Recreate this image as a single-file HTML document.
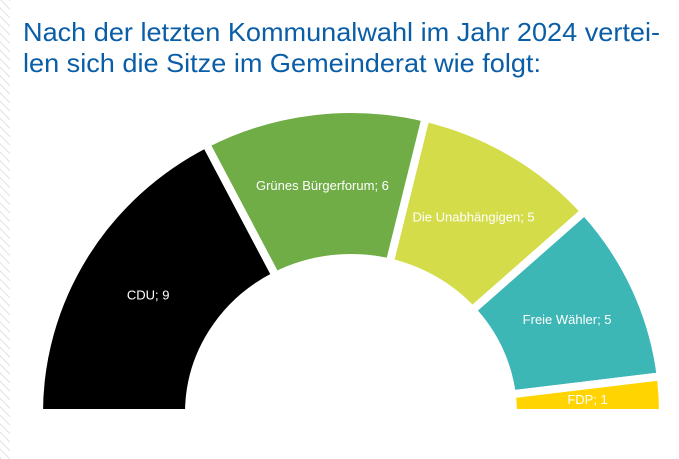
<!DOCTYPE html>
<html><head><meta charset="utf-8"><style>
html,body{margin:0;padding:0;background:#fff;width:679px;height:459px;overflow:hidden}
svg{display:block}
</style></head><body>
<svg width="679" height="459" viewBox="0 0 679 459">
<defs><pattern id="hatch" width="6" height="6" patternUnits="userSpaceOnUse" patternTransform="rotate(-45)"><line x1="0" y1="0" x2="0" y2="6" stroke="#d8d8d8" stroke-width="1.5"/></pattern></defs>
<rect x="0" y="0" width="10" height="459" fill="url(#hatch)"/>
<text x="23" y="41" font-family="Liberation Sans, sans-serif" font-size="26" fill="#0a5ea8" textLength="637" lengthAdjust="spacingAndGlyphs">Nach der letzten Kommunalwahl im Jahr 2024 vertei-</text>
<text x="23" y="72" font-family="Liberation Sans, sans-serif" font-size="26" fill="#0a5ea8" textLength="518" lengthAdjust="spacingAndGlyphs">len sich die Sitze im Gemeinderat wie folgt:</text>
<g id="chart"></g>
</svg>
<script>
const parties = ["CDU", "Grünes Bürgerforum", "Die Unabhängigen", "Freie Wähler", "FDP"];
const seats = [9, 6, 5, 5, 1];
const colors = ["#000000", "#70ad47", "#d4dc4a", "#3db6b6", "#ffd400"];
const cx = 351, cy = 413, rxO = 312, ryO = 304, rxI = 162, ryI = 155;
const total = seats.reduce((a, b) => a + b, 0);
const g = document.getElementById('chart');
const ns = 'http://www.w3.org/2000/svg';
function pt(a, rx, ry) { return [cx - rx * Math.cos(a), cy - ry * Math.sin(a)]; }
let cum = 0;
seats.forEach((v, i) => {
  const a0 = cum / total * Math.PI, a1 = (cum + v) / total * Math.PI;
  cum += v;
  const p0 = pt(a0, rxO, ryO), p1 = pt(a1, rxO, ryO), p2 = pt(a1, rxI, ryI), p3 = pt(a0, rxI, ryI);
  const path = document.createElementNS(ns, 'path');
  path.setAttribute('d', `M${p0} A${rxO} ${ryO} 0 0 1 ${p1} L${p2} A${rxI} ${ryI} 0 0 0 ${p3} Z`);
  path.setAttribute('fill', colors[i]);
  path.setAttribute('stroke', '#fff');
  path.setAttribute('stroke-width', '8');
  path.setAttribute('stroke-linejoin', 'miter');
  
  
  g.appendChild(path);
  const am = (a0 + a1) / 2;
  const lp = pt(am, (rxO + rxI) / 2, (ryO + ryI) / 2);
  const t = document.createElementNS(ns, 'text');
  t.setAttribute('x', lp[0]);
  t.setAttribute('y', lp[1] + 5);
  t.setAttribute('text-anchor', 'middle');
  t.setAttribute('font-family', 'Liberation Sans, sans-serif');
  t.setAttribute('font-size', '13');
  t.setAttribute('fill', '#fff');
  t.textContent = parties[i] + '; ' + v;
  
  
  g.appendChild(t);
});
</script>
</body></html>
